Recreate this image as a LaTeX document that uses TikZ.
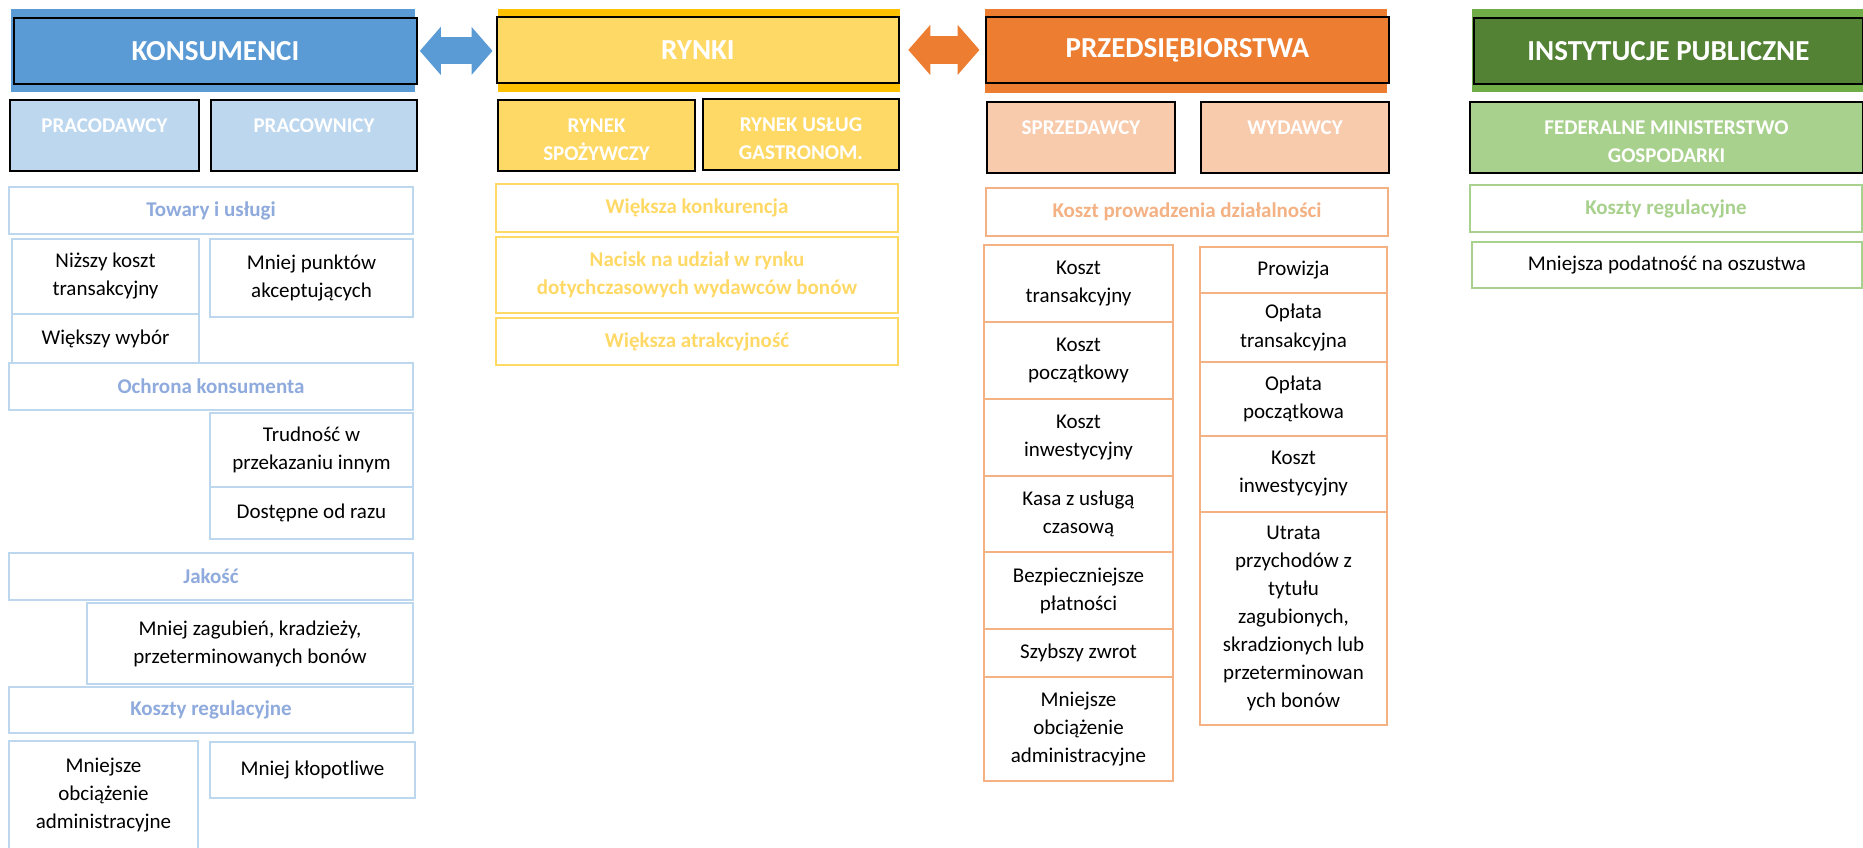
\documentclass[tikz,border=0pt]{standalone}
\usepackage{fontspec}
\setmainfont{Carlito}
\usepackage{tikz}
\usetikzlibrary{positioning,arrows.meta}

\definecolor{kblue}{HTML}{5B9BD5}
\definecolor{kbluelight}{HTML}{BDD7EE}
\definecolor{kbluetext}{HTML}{8FAADC}
\definecolor{ryellow}{HTML}{FFC000}
\definecolor{ryellowlight}{HTML}{FFD966}
\definecolor{porange}{HTML}{ED7D31}
\definecolor{porangelight}{HTML}{F8CBAD}
\definecolor{porangeline}{HTML}{F4B183}
\definecolor{igreen}{HTML}{70AD47}
\definecolor{igreendark}{HTML}{548235}
\definecolor{igreenlight}{HTML}{A9D18E}

\begin{document}
\begin{tikzpicture}[x=0.5pt,y=-0.5pt,
  head node/.style={draw=black,line width=0.9pt,anchor=north west,minimum height=33pt,
    text=white,font=\fontsize{14.5}{17}\selectfont\bfseries},
  sub node/.style={draw=black,line width=1pt,anchor=north west,inner ysep=0pt,
    text height=16pt,text depth=19.5pt,align=center,text=white,
    font=\fontsize{10.5}{14}\selectfont\bfseries},
  two lines/.style={text height=30pt,text depth=5.5pt},
  box node/.style={draw=#1,line width=1pt,fill=white,anchor=north west,outer sep=0pt,
    inner sep=2pt,align=center,font=\fontsize{10.5}{14}\selectfont},
  title node/.style={box node=#1,text=#1,font=\fontsize{10.5}{14}\selectfont\bfseries}]

  \useasboundingbox (0,0) rectangle (1863,847);
  \clip (0,0) rectangle (1863,847);
  \fill[white] (0,0) rectangle (1863,847);

  % coloured bands behind the headers
  \fill[kblue] (11,9) rectangle (415,92);
  \fill[ryellow] (498,9) rectangle (900,92);
  \fill[porange] (985,9) rectangle (1387,93);
  \fill[igreen] (1472,9) rectangle (1863,92);

  \node[head node,fill=kblue,minimum width=201.5pt] (kons) at (13,17) {KONSUMENCI};
  \node[head node,fill=ryellowlight,minimum width=201pt] (rynki) at (496,16) {RYNKI};
  \node[head node,fill=porange,minimum width=201.5pt] (przed) at (985,16) {PRZEDSIĘBIORSTWA};
  \node[head node,fill=igreendark,minimum width=194.5pt] (inst) at (1473,17) {INSTYTUCJE PUBLICZNE};

  \node[sub node,fill=kbluelight,minimum width=94.5pt] (prac) at (9,99) {PRACODAWCY};
  \node[sub node,fill=kbluelight,minimum width=103pt] (pracow) at (210,99) {PRACOWNICY};
  \node[sub node,two lines,fill=ryellowlight,minimum width=98.5pt] (spoz) at (497,99) {RYNEK\\SPOŻYWCZY};
  \node[sub node,two lines,fill=ryellowlight,minimum width=98pt] (gastro) at (702,98) {RYNEK USŁUG\\GASTRONOM.};
  \node[sub node,fill=porangelight,minimum width=94pt] (sprz) at (986,101) {SPRZEDAWCY};
  \node[sub node,fill=porangelight,minimum width=94pt] (wyd) at (1200,101) {WYDAWCY};
  \node[sub node,two lines,fill=igreenlight,minimum width=196.5pt] (fed) at (1469,101) {FEDERALNE MINISTERSTWO\\GOSPODARKI};

  % konsumenci
  \node[title node=kbluelight,text=kbluetext,minimum width=202pt,minimum height=23.5pt] (tow) at (9,187) {Towary i usługi};
  \node[box node=kbluelight,minimum width=93.5pt,minimum height=37.5pt] (nizszy) at (12,239) {Niższy koszt\\transakcyjny};
  \node[box node=kbluelight,minimum width=93.5pt,minimum height=24.5pt,below=0pt of nizszy] (wybor) {Większy wybór};
  \node[box node=kbluelight,minimum width=101.5pt,minimum height=39pt] (punkty) at (210,239) {Mniej punktów\\akceptujących};
  \node[title node=kbluelight,text=kbluetext,minimum width=202pt,minimum height=23.5pt] (ochr) at (9,363) {Ochrona konsumenta};
  \node[box node=kbluelight,minimum width=101.5pt,minimum height=37pt] (trud) at (210,413) {Trudność w\\przekazaniu innym};
  \node[box node=kbluelight,minimum width=101.5pt,minimum height=26pt,below=0pt of trud] (dost) {Dostępne od razu};
  \node[title node=kbluelight,text=kbluetext,minimum width=202pt,minimum height=23.5pt] (jakosc) at (9,553) {Jakość};
  \node[box node=kbluelight,minimum width=163pt,minimum height=40.5pt] (zagub) at (87,603) {Mniej zagubień, kradzieży,\\przeterminowanych bonów};
  \node[title node=kbluelight,text=kbluetext,minimum width=202pt,minimum height=23pt] (kreg) at (9,687) {Koszty regulacyjne};
  \node[box node=kbluelight,minimum width=94.5pt,minimum height=54.5pt] (admin) at (9,741) {Mniejsze\\obciążenie\\administracyjne};
  \node[box node=kbluelight,minimum width=102.5pt,minimum height=28pt] (klopot) at (210,742) {Mniej kłopotliwe};

  % rynki
  \node[title node=ryellowlight,minimum width=201pt,minimum height=24pt] (konk) at (496,184) {Większa konkurencja};
  \node[title node=ryellowlight,minimum width=201pt,minimum height=38pt] (nacisk) at (496,237) {Nacisk na udział w rynku\\dotychczasowych wydawców bonów};
  \node[title node=ryellowlight,minimum width=201pt,minimum height=23.5pt] (atrak) at (496,318) {Większa atrakcyjność};

  % przedsiebiorstwa
  \node[title node=porangeline,minimum width=201pt,minimum height=24pt] (prow) at (986,188) {Koszt prowadzenia działalności};
  \node[box node=porangeline,minimum width=94.5pt,minimum height=38.5pt] (ktrans) at (984,245) {Koszt\\transakcyjny};
  \node[box node=porangeline,minimum width=94.5pt,minimum height=38.5pt,below=0pt of ktrans] (kpocz) {Koszt\\początkowy};
  \node[box node=porangeline,minimum width=94.5pt,minimum height=38.5pt,below=0pt of kpocz] (kinw) {Koszt\\inwestycyjny};
  \node[box node=porangeline,minimum width=94.5pt,minimum height=38pt,below=0pt of kinw] (kasa) {Kasa z usługą\\czasową};
  \node[box node=porangeline,minimum width=94.5pt,minimum height=38.5pt,below=0pt of kasa] (bezp) {Bezpieczniejsze\\płatności};
  \node[box node=porangeline,minimum width=94.5pt,minimum height=24pt,below=0pt of bezp] (zwrot) {Szybszy zwrot};
  \node[box node=porangeline,minimum width=94.5pt,minimum height=52pt,below=0pt of zwrot] (madmin) {Mniejsze\\obciążenie\\administracyjne};

  \node[box node=porangeline,minimum width=93.5pt,minimum height=23pt] (prowiz) at (1200,247) {Prowizja};
  \node[box node=porangeline,minimum width=93.5pt,minimum height=34.5pt,below=0pt of prowiz] (otrans) {Opłata\\transakcyjna};
  \node[box node=porangeline,minimum width=93.5pt,minimum height=37pt,below=0pt of otrans] (opocz) {Opłata\\początkowa};
  \node[box node=porangeline,minimum width=93.5pt,minimum height=38pt,below=0pt of opocz] (kinw2) {Koszt\\inwestycyjny};
  \node[box node=porangeline,minimum width=93.5pt,minimum height=106.5pt,below=0pt of kinw2] (utrata) {Utrata\\przychodów z\\tytułu\\zagubionych,\\skradzionych lub\\przeterminowan\\ych bonów};

  % instytucje publiczne
  \node[title node=igreenlight,minimum width=196pt,minimum height=23.5pt] (greg) at (1470,185) {Koszty regulacyjne};
  \node[box node=igreenlight,minimum width=195pt,minimum height=23pt] (podat) at (1472,242) {Mniejsza podatność na oszustwa};

  % two-way block arrows between the headers
  \draw[kblue,line width=13.5pt,{Triangle[length=10.5pt,width=23.5pt]}-{Triangle[length=10.5pt,width=23.5pt]},
    shorten <=1pt,shorten >=1.75pt] (kons.east) -- (kons.east -| rynki.west);
  \draw[porange,line width=14pt,{Triangle[length=11pt,width=24.5pt]}-{Triangle[length=11pt,width=24.5pt]},
    shorten <=4.25pt,shorten >=2.75pt] (rynki.east) -- (rynki.east -| przed.west);
\end{tikzpicture}
\end{document}
